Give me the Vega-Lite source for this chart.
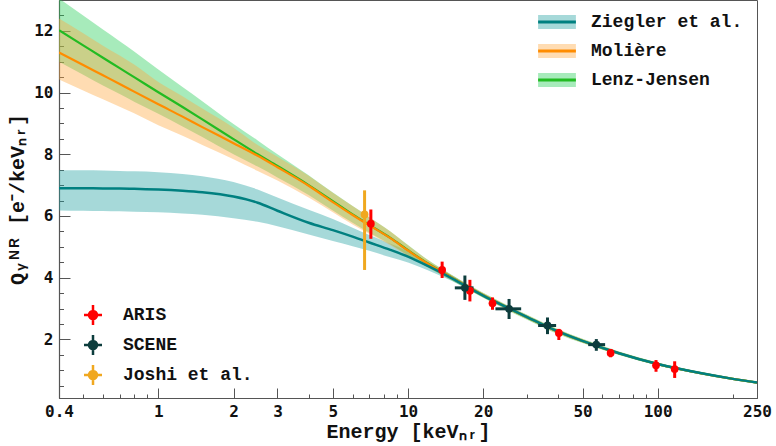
{
  "$schema": "https://vega.github.io/schema/vega-lite/v6.json",
  "width": 698,
  "height": 398,
  "autosize": {"type": "none"},
  "padding": {"left": 59, "top": 0, "right": 19, "bottom": 48},
  "config": {
    "view": {"stroke": "#555", "strokeWidth": 1},
    "axis": {"grid": false, "domainColor": "#555", "tickColor": "#555", "domainWidth": 1.2, "tickWidth": 1,
      "labelFont": "DejaVu Sans Mono", "labelFontSize": 16, "labelFontWeight": "bold", "labelColor": "#111",
      "titleFont": "Liberation Mono", "titleFontSize": 20, "titleFontWeight": "bold", "titleColor": "#111"},
    "legend": {"labelFont": "Liberation Mono", "labelFontSize": 18, "labelFontWeight": "bold", "labelColor": "#111", "padding": 0}
  },
  "datasets": {
    "curves": [
      {"m":"Ziegler et al.","E":0.4,"lo":6.18,"mid":6.90,"hi":7.48},
      {"m":"Ziegler et al.","E":0.5,"lo":6.17,"mid":6.90,"hi":7.48},
      {"m":"Ziegler et al.","E":0.6,"lo":6.16,"mid":6.89,"hi":7.47},
      {"m":"Ziegler et al.","E":0.7,"lo":6.15,"mid":6.89,"hi":7.46},
      {"m":"Ziegler et al.","E":0.8,"lo":6.14,"mid":6.88,"hi":7.45},
      {"m":"Ziegler et al.","E":1,"lo":6.12,"mid":6.86,"hi":7.42},
      {"m":"Ziegler et al.","E":1.25,"lo":6.08,"mid":6.82,"hi":7.36},
      {"m":"Ziegler et al.","E":1.5,"lo":6.04,"mid":6.77,"hi":7.29},
      {"m":"Ziegler et al.","E":2,"lo":5.93,"mid":6.63,"hi":7.10},
      {"m":"Ziegler et al.","E":2.5,"lo":5.81,"mid":6.43,"hi":6.86},
      {"m":"Ziegler et al.","E":3,"lo":5.67,"mid":6.17,"hi":6.60},
      {"m":"Ziegler et al.","E":4,"lo":5.40,"mid":5.78,"hi":6.20},
      {"m":"Ziegler et al.","E":5,"lo":5.19,"mid":5.54,"hi":5.90},
      {"m":"Ziegler et al.","E":6,"lo":5.02,"mid":5.33,"hi":5.62},
      {"m":"Ziegler et al.","E":7,"lo":4.87,"mid":5.14,"hi":5.38},
      {"m":"Ziegler et al.","E":8.5,"lo":4.66,"mid":4.90,"hi":5.10},
      {"m":"Ziegler et al.","E":10,"lo":4.49,"mid":4.68,"hi":4.86},
      {"m":"Ziegler et al.","E":12,"lo":4.24,"mid":4.38,"hi":4.52},
      {"m":"Ziegler et al.","E":15,"lo":3.89,"mid":3.98,"hi":4.07},
      {"m":"Ziegler et al.","E":20,"lo":3.36,"mid":3.42,"hi":3.48},
      {"m":"Ziegler et al.","E":25,"lo":2.98,"mid":3.03,"hi":3.08},
      {"m":"Ziegler et al.","E":30,"lo":2.67,"mid":2.72,"hi":2.77},
      {"m":"Ziegler et al.","E":40,"lo":2.20,"mid":2.25,"hi":2.30},
      {"m":"Ziegler et al.","E":50,"lo":1.91,"mid":1.95,"hi":1.99},
      {"m":"Ziegler et al.","E":70,"lo":1.51,"mid":1.55,"hi":1.59},
      {"m":"Ziegler et al.","E":100,"lo":1.16,"mid":1.20,"hi":1.24},
      {"m":"Ziegler et al.","E":150,"lo":0.87,"mid":0.90,"hi":0.93},
      {"m":"Ziegler et al.","E":200,"lo":0.69,"mid":0.72,"hi":0.75},
      {"m":"Ziegler et al.","E":250,"lo":0.57,"mid":0.60,"hi":0.63},
      {"m":"Lenz-Jensen","E":0.4,"lo":11.0,"mid":12.02,"hi":13.05},
      {"m":"Lenz-Jensen","E":0.5,"lo":10.58,"mid":11.53,"hi":12.50},
      {"m":"Lenz-Jensen","E":0.6,"lo":10.23,"mid":11.13,"hi":12.04},
      {"m":"Lenz-Jensen","E":0.7,"lo":9.95,"mid":10.79,"hi":11.66},
      {"m":"Lenz-Jensen","E":0.8,"lo":9.70,"mid":10.50,"hi":11.33},
      {"m":"Lenz-Jensen","E":1,"lo":9.31,"mid":10.01,"hi":10.75},
      {"m":"Lenz-Jensen","E":1.25,"lo":8.90,"mid":9.53,"hi":10.18},
      {"m":"Lenz-Jensen","E":1.5,"lo":8.56,"mid":9.13,"hi":9.72},
      {"m":"Lenz-Jensen","E":2,"lo":8.00,"mid":8.49,"hi":8.98},
      {"m":"Lenz-Jensen","E":2.5,"lo":7.60,"mid":8.00,"hi":8.45},
      {"m":"Lenz-Jensen","E":3,"lo":7.25,"mid":7.62,"hi":8.00},
      {"m":"Lenz-Jensen","E":4,"lo":6.68,"mid":7.00,"hi":7.32},
      {"m":"Lenz-Jensen","E":5,"lo":6.18,"mid":6.48,"hi":6.76},
      {"m":"Lenz-Jensen","E":6,"lo":5.78,"mid":6.05,"hi":6.32},
      {"m":"Lenz-Jensen","E":7,"lo":5.46,"mid":5.71,"hi":5.96},
      {"m":"Lenz-Jensen","E":8.5,"lo":5.08,"mid":5.29,"hi":5.50},
      {"m":"Lenz-Jensen","E":10,"lo":4.72,"mid":4.89,"hi":5.06},
      {"m":"Lenz-Jensen","E":12,"lo":4.34,"mid":4.46,"hi":4.58},
      {"m":"Lenz-Jensen","E":15,"lo":3.91,"mid":4.00,"hi":4.09},
      {"m":"Lenz-Jensen","E":20,"lo":3.35,"mid":3.43,"hi":3.51},
      {"m":"Lenz-Jensen","E":25,"lo":2.95,"mid":3.03,"hi":3.11},
      {"m":"Lenz-Jensen","E":30,"lo":2.64,"mid":2.72,"hi":2.80},
      {"m":"Lenz-Jensen","E":40,"lo":2.17,"mid":2.25,"hi":2.33},
      {"m":"Lenz-Jensen","E":50,"lo":1.88,"mid":1.95,"hi":2.02},
      {"m":"Lenz-Jensen","E":70,"lo":1.49,"mid":1.55,"hi":1.61},
      {"m":"Lenz-Jensen","E":100,"lo":1.15,"mid":1.20,"hi":1.25},
      {"m":"Lenz-Jensen","E":150,"lo":0.86,"mid":0.90,"hi":0.94},
      {"m":"Lenz-Jensen","E":200,"lo":0.68,"mid":0.72,"hi":0.76},
      {"m":"Lenz-Jensen","E":250,"lo":0.56,"mid":0.60,"hi":0.64},
      {"m":"Molière","E":0.4,"lo":10.42,"mid":11.30,"hi":12.40},
      {"m":"Molière","E":0.5,"lo":10.07,"mid":10.89,"hi":11.92},
      {"m":"Molière","E":0.6,"lo":9.78,"mid":10.56,"hi":11.52},
      {"m":"Molière","E":0.7,"lo":9.54,"mid":10.28,"hi":11.20},
      {"m":"Molière","E":0.8,"lo":9.33,"mid":10.03,"hi":10.91},
      {"m":"Molière","E":1,"lo":8.94,"mid":9.62,"hi":10.34},
      {"m":"Molière","E":1.25,"lo":8.60,"mid":9.22,"hi":9.88},
      {"m":"Molière","E":1.5,"lo":8.30,"mid":8.88,"hi":9.48},
      {"m":"Molière","E":2,"lo":7.84,"mid":8.36,"hi":8.86},
      {"m":"Molière","E":2.5,"lo":7.46,"mid":7.95,"hi":8.30},
      {"m":"Molière","E":3,"lo":7.15,"mid":7.58,"hi":7.92},
      {"m":"Molière","E":4,"lo":6.60,"mid":6.98,"hi":7.30},
      {"m":"Molière","E":5,"lo":6.12,"mid":6.45,"hi":6.75},
      {"m":"Molière","E":6,"lo":5.72,"mid":6.03,"hi":6.32},
      {"m":"Molière","E":7,"lo":5.42,"mid":5.70,"hi":5.96},
      {"m":"Molière","E":8.5,"lo":5.05,"mid":5.28,"hi":5.50},
      {"m":"Molière","E":10,"lo":4.70,"mid":4.88,"hi":5.05},
      {"m":"Molière","E":12,"lo":4.33,"mid":4.45,"hi":4.57},
      {"m":"Molière","E":15,"lo":3.92,"mid":4.00,"hi":4.08},
      {"m":"Molière","E":20,"lo":3.36,"mid":3.43,"hi":3.50},
      {"m":"Molière","E":25,"lo":2.96,"mid":3.03,"hi":3.10},
      {"m":"Molière","E":30,"lo":2.65,"mid":2.72,"hi":2.79},
      {"m":"Molière","E":40,"lo":2.18,"mid":2.25,"hi":2.32},
      {"m":"Molière","E":50,"lo":1.89,"mid":1.95,"hi":2.01},
      {"m":"Molière","E":70,"lo":1.50,"mid":1.55,"hi":1.60},
      {"m":"Molière","E":100,"lo":1.16,"mid":1.20,"hi":1.24},
      {"m":"Molière","E":150,"lo":0.87,"mid":0.90,"hi":0.93},
      {"m":"Molière","E":200,"lo":0.69,"mid":0.72,"hi":0.75},
      {"m":"Molière","E":250,"lo":0.57,"mid":0.60,"hi":0.63}
    ],
    "points": [
      {"s":"Joshi et al.","E":6.7,"Q":6.05,"Qlo":4.25,"Qhi":6.83,"Elo":6.7,"Ehi":6.7},
      {"s":"ARIS","E":7.1,"Q":5.75,"Qlo":5.26,"Qhi":6.21,"Elo":7.1,"Ehi":7.1},
      {"s":"ARIS","E":13.7,"Q":4.25,"Qlo":3.99,"Qhi":4.52,"Elo":13.7,"Ehi":13.7},
      {"s":"ARIS","E":17.7,"Q":3.58,"Qlo":3.23,"Qhi":3.93,"Elo":17.7,"Ehi":17.7},
      {"s":"ARIS","E":21.8,"Q":3.17,"Qlo":2.96,"Qhi":3.36,"Elo":21.8,"Ehi":21.8},
      {"s":"ARIS","E":40.2,"Q":2.21,"Qlo":1.98,"Qhi":2.34,"Elo":40.2,"Ehi":40.2},
      {"s":"ARIS","E":64.8,"Q":1.56,"Qlo":1.42,"Qhi":1.69,"Elo":64.8,"Ehi":64.8},
      {"s":"ARIS","E":98.5,"Q":1.16,"Qlo":0.95,"Qhi":1.33,"Elo":98.5,"Ehi":98.5},
      {"s":"ARIS","E":117,"Q":1.04,"Qlo":0.75,"Qhi":1.29,"Elo":117,"Ehi":117},
      {"s":"SCENE","E":16.9,"Q":3.67,"Qlo":3.28,"Qhi":4.07,"Elo":15.4,"Ehi":18.3},
      {"s":"SCENE","E":25.4,"Q":2.99,"Qlo":2.66,"Qhi":3.31,"Elo":22.4,"Ehi":28.4},
      {"s":"SCENE","E":36.2,"Q":2.45,"Qlo":2.17,"Qhi":2.71,"Elo":33.2,"Ehi":39.2},
      {"s":"SCENE","E":56.8,"Q":1.83,"Qlo":1.63,"Qhi":2.01,"Elo":52.7,"Ehi":61.6}
    ]
  },
  "resolve": {"axis": {"x": "independent", "y": "independent"}},
  "layer": [
    {
      "data": {"name": "curves"},
      "mark": {"type": "area", "interpolate": "monotone", "fillOpacity": 0.4, "clip": true},
      "encoding": {
        "x": {"field": "E", "type": "quantitative", "scale": {"type": "log", "domain": [0.4, 250], "nice": false},
          "axis": {"orient": "bottom", "values": [0.4, 1, 2, 3, 5, 10, 20, 50, 100, 250], "format": "~g", "tickSize": -10, "labelPadding": 15, "labelFlush": false, "labelOverlap": false, "labelBound": false, "title": "Energy [keVₙᵣ]", "titlePadding": 2}},
        "y": {"field": "lo", "type": "quantitative", "scale": {"domain": [0.1, 13], "nice": false, "zero": false},
          "axis": {"orient": "left", "values": [2, 4, 6, 8, 10, 12], "tickSize": -11, "labelPadding": 17, "labelOverlap": false, "title": "Qᵧᴺᴿ [e⁻/keVₙᵣ]", "titlePadding": 6}},
        "y2": {"field": "hi"},
        "fill": {"field": "m", "type": "nominal",
          "scale": {"domain": ["Ziegler et al.", "Molière", "Lenz-Jensen"], "range": ["#20a0a0", "#ffa83e", "#22cc55"]},
          "legend": {"orient": "none", "legendX": 477, "legendY": 13, "title": null, "symbolType": "M-2.7,-1H2.7V1H-2.7Z", "symbolSize": 196, "symbolOpacity": 0.4, "symbolStrokeWidth": 0, "symbolOffset": 12, "labelOffset": 25, "rowPadding": 11, "labelOpacity": 0}}
      }
    },
    {
      "data": {"name": "curves"},
      "transform": [{"filter": "datum.m != 'Ziegler et al.'"}],
      "mark": {"type": "line", "interpolate": "monotone", "strokeWidth": 2.2, "clip": true},
      "encoding": {
        "x": {"field": "E", "type": "quantitative",
          "axis": {"orient": "bottom", "values": [0.5, 0.6, 0.7, 0.8, 0.9, 4, 6, 7, 8, 9, 30, 40, 60, 70, 80, 90, 200], "tickSize": -4, "labels": false, "domain": false, "title": null}},
        "y": {"field": "mid", "type": "quantitative",
          "axis": {"orient": "left", "values": [0.5, 1, 1.5, 2.5, 3, 3.5, 4.5, 5, 5.5, 6.5, 7, 7.5, 8.5, 9, 9.5, 10.5, 11, 11.5, 12.5], "tickSize": -4.5, "labels": false, "domain": false, "title": null}},
        "stroke": {"field": "m", "type": "nominal", "sort": ["Ziegler et al.", "Molière", "Lenz-Jensen"],
          "scale": {"range": ["#008080", "#ff8c00", "#22bb22"]},
          "legend": {"orient": "none", "legendX": 477, "legendY": 13, "title": null, "symbolType": "M-2.7,0H2.7", "symbolSize": 196, "symbolStrokeWidth": 3, "symbolOffset": 12, "labelOffset": 25, "rowPadding": 11}}
      }
    },
    {
      "data": {"name": "curves"},
      "transform": [{"filter": "datum.m == 'Ziegler et al.'"}],
      "mark": {"type": "line", "interpolate": "monotone", "strokeWidth": 2.5, "clip": true},
      "encoding": {
        "x": {"field": "E", "type": "quantitative", "axis": null},
        "y": {"field": "mid", "type": "quantitative", "axis": null},
        "stroke": {"field": "m", "type": "nominal", "sort": ["Ziegler et al.", "Molière", "Lenz-Jensen"]}
      }
    },
    {
      "data": {"name": "points"},
      "mark": {"type": "rule", "strokeWidth": 3},
      "encoding": {
        "x": {"field": "E", "type": "quantitative", "axis": null},
        "y": {"field": "Qlo", "type": "quantitative", "axis": null},
        "y2": {"field": "Qhi"},
        "color": {"field": "s", "type": "nominal"}
      }
    },
    {
      "data": {"name": "points"},
      "transform": [{"filter": "datum.s == 'SCENE'"}],
      "mark": {"type": "rule", "strokeWidth": 3},
      "encoding": {
        "x": {"field": "Elo", "type": "quantitative", "axis": null},
        "x2": {"field": "Ehi"},
        "y": {"field": "Q", "type": "quantitative", "axis": null},
        "color": {"field": "s", "type": "nominal"}
      }
    },
    {
      "data": {"name": "points"},
      "mark": {"type": "point", "shape": "circle", "filled": true, "size": 60, "opacity": 1},
      "encoding": {
        "x": {"field": "E", "type": "quantitative", "axis": null},
        "y": {"field": "Q", "type": "quantitative", "axis": null},
        "color": {"field": "s", "type": "nominal",
          "scale": {"domain": ["ARIS", "SCENE", "Joshi et al."], "range": ["#ff0000", "#0d3d3d", "#f0a820"]},
          "legend": {"orient": "none", "legendX": 15, "legendY": 306, "title": null, "symbolType": "M-1.8,0H1.8M0,-2V2M0.8,0A0.8,0.8 0 1 1 -0.8,0A0.8,0.8 0 1 1 0.8,0Z", "symbolSize": 100, "symbolStrokeWidth": 2.5, "symbolOpacity": 1, "symbolOffset": 10, "labelOffset": 21, "rowPadding": 0,
            "encode": {"symbols": {"update": {"stroke": {"scale": "color", "field": "value"}, "fill": {"scale": "color", "field": "value"}, "strokeWidth": {"value": 2.5}}}}}}
      }
    }
  ]
}
